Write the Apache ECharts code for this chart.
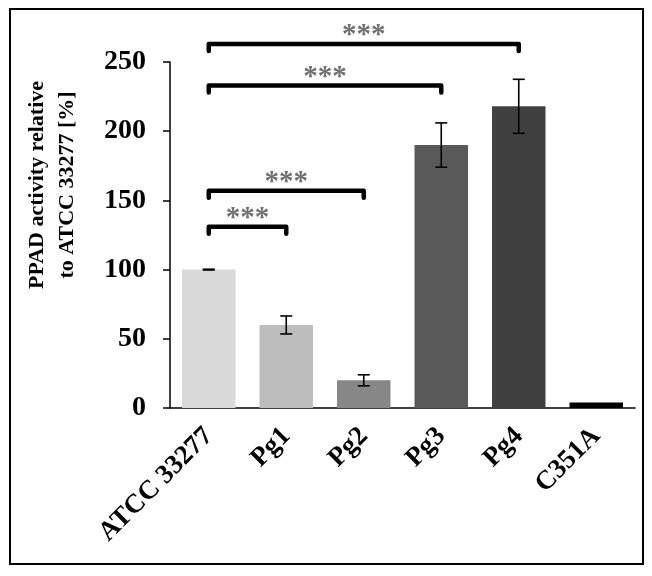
<!DOCTYPE html>
<html>
<head>
<meta charset="utf-8">
<script src="https://cdn.jsdelivr.net/npm/echarts@6/dist/echarts.min.js"></script>
<style>
  html, body { margin: 0; padding: 0; background: #fff; }
  #chart { width: 652px; height: 576px; }
</style>
</head>
<body>
<div id="chart"></div>
<script>
// strains and relative PPAD activity (%)
const categories = ['ATCC 33277', 'Pg1', 'Pg2', 'Pg3', 'Pg4', 'C351A']
const activity = [100, 60, 20, 190, 218, 4]
const errors = [0.3, 6.5, 4, 16, 19.5, 0]
const barColors = ['#d9d9d9', '#bdbdbd', '#878787', '#595959', '#404040', '#000000']
// significance brackets: [from category, to category, height]
const brackets = [
  [0, 1, 131],
  [0, 2, 157],
  [0, 3, 233],
  [0, 4, 263]
]
const bracketLabels = ['***', '***', '***', '***']
const yMin = 0
const yMax = 250
const yStep = 50

const serif = '"Liberation Serif", "Times New Roman", serif'

let chart = echarts.init(document.getElementById('chart'))

let errorData = categories.map((c, i) => [i, activity[i], errors[i]])

let option = {
  animation: false,
  backgroundColor: '#fff',
  grid: { left: 170, right: 17, top: 62, bottom: 168, containLabel: false },
  xAxis: {
    type: 'category',
    data: categories,
    axisLine: { lineStyle: { color: '#000', width: 1.5 } },
    axisTick: { show: false },
    axisLabel: {
      rotate: 45,
      margin: 24,
      color: '#000',
      fontFamily: serif,
      fontWeight: 'bold',
      fontSize: 27
    }
  },
  yAxis: {
    type: 'value',
    min: yMin,
    max: yMax,
    interval: yStep,
    splitLine: { show: false },
    axisLine: { show: true, lineStyle: { color: '#000', width: 1.5 } },
    axisTick: { show: true, length: 7, lineStyle: { color: '#000', width: 1.5 } },
    axisLabel: {
      margin: 24,
      color: '#000',
      fontFamily: serif,
      fontWeight: 'bold',
      fontSize: 28
    }
  },
  graphic: [
    {
      type: 'rect',
      shape: { x: 10, y: 9, width: 633, height: 555 },
      style: { fill: 'none', stroke: '#000', lineWidth: 2 },
      silent: true
    },
    {
      type: 'text',
      x: 22,
      y: 185,
      rotation: Math.PI / 2,
      style: {
        text: 'PPAD activity relative\nto ATCC 33277 [%]',
        font: 'bold 22px ' + serif,
        fill: '#000',
        align: 'center',
        verticalAlign: 'top',
        lineHeight: 30
      }
    }
  ],
  series: [
    {
      type: 'bar',
      data: activity.map((v, i) => ({ value: v, itemStyle: { color: barColors[i] } })),
      barCategoryGap: '31%',
      z: 2
    },
    {
      type: 'custom',
      data: errorData,
      encode: { x: 0, y: 1 },
      z: 3,
      renderItem: function (params, api) {
        let i = api.value(0)
        let v = api.value(1)
        let e = api.value(2)
        if (!e) return
        let top = api.coord([i, v + e])
        let bot = api.coord([i, v - e])
        let w = 6
        let st = { stroke: '#000', lineWidth: 1.6 }
        return {
          type: 'group',
          children: [
            { type: 'line', shape: { x1: top[0], y1: top[1], x2: bot[0], y2: bot[1] }, style: st },
            { type: 'line', shape: { x1: top[0] - w, y1: top[1], x2: top[0] + w, y2: top[1] }, style: st },
            { type: 'line', shape: { x1: bot[0] - w, y1: bot[1], x2: bot[0] + w, y2: bot[1] }, style: st }
          ]
        }
      }
    },
    {
      type: 'custom',
      data: brackets,
      encode: { x: [0, 1], y: 2 },
      z: 4,
      renderItem: function (params, api) {
        let a = api.coord([api.value(0), api.value(2)])
        let b = api.coord([api.value(1), api.value(2)])
        let drop = 7
        return {
          type: 'group',
          children: [
            {
              type: 'polyline',
              shape: { points: [[a[0], a[1] + drop], [a[0], a[1]], [b[0], b[1]], [b[0], b[1] + drop]] },
              style: { stroke: '#000', lineWidth: 4.5, fill: 'none', lineCap: 'round', lineJoin: 'round' }
            },
            {
              type: 'text',
              x: (a[0] + b[0]) / 2,
              y: a[1] + 6,
              style: {
                text: bracketLabels[params.dataIndex],
                font: 'bold 29px ' + serif,
                fill: '#707070',
                align: 'center',
                verticalAlign: 'bottom'
              }
            }
          ]
        }
      }
    }
  ]
}

chart.setOption(option)
</script>
</body>
</html>
